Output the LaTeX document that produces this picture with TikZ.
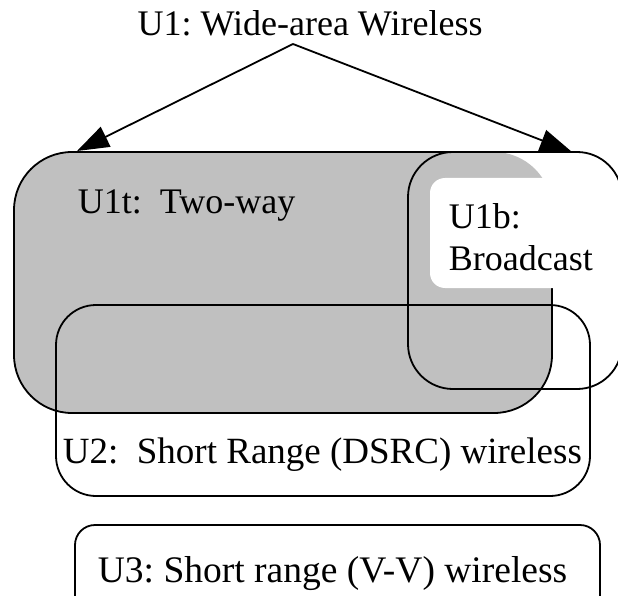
\documentclass[tikz,border=0pt]{standalone}
\usepackage{fontspec}
\setmainfont{Liberation Serif}
\usetikzlibrary{arrows.meta}
\definecolor{areagray}{HTML}{C0C0C0}
\begin{document}
\frenchspacing
\begin{tikzpicture}[x=1pt,y=-1pt,line width=1.8pt,
  every node/.style={font=\fontsize{36}{42}\selectfont, inner sep=0pt},
  lbl/.style={anchor=base west},
  arr/.style={-{Triangle[length=32pt,width=22pt]}}]
\useasboundingbox (0,0) rectangle (618,596);
\clip (0,0) rectangle (618,596);
% U1t shaded region and its outline
\fill[areagray, rounded corners=58pt] (14,152) rectangle (552,413);
\draw[rounded corners=58pt] (552,230) -- (552,413) -- (14,413) -- (14,152) -- (494,152);
% white backing of U1b label
\fill[white, rounded corners=15pt] (430,178) rectangle (600,288);
% U1b
\draw[rounded corners=45pt] (408,152) rectangle (622,389);
% U2
\draw[rounded corners=40pt] (56,305) rectangle (590,496);
% U3
\draw[rounded corners=20pt] (75,525) rectangle (600,640);
% texts
\node[anchor=base] (title) at (310,36) {U1: Wide-area Wireless};
\node[lbl] (u1t) at (77,213) {U1t:\ \ Two-way};
\node[lbl] (u1b) at (448,228) {U1b:};
\node[lbl] (u1bb) at (448,270) {Broadcast};
\node[lbl, font=\fontsize{37}{42}\selectfont] (u2) at (62,463) {U2:\ \ Short Range (DSRC) wireless};
\node[lbl, font=\fontsize{37.5}{42}\selectfont] (u3) at (97,582) {U3: Short range (V-V) wireless};
% arrows
\coordinate (apex) at (293,44);
\coordinate (tipL) at (77,151);
\coordinate (tipR) at (572,152);
\draw[arr] (apex) -- (tipL);
\draw[arr] (apex) -- (tipR);
\end{tikzpicture}
\end{document}
